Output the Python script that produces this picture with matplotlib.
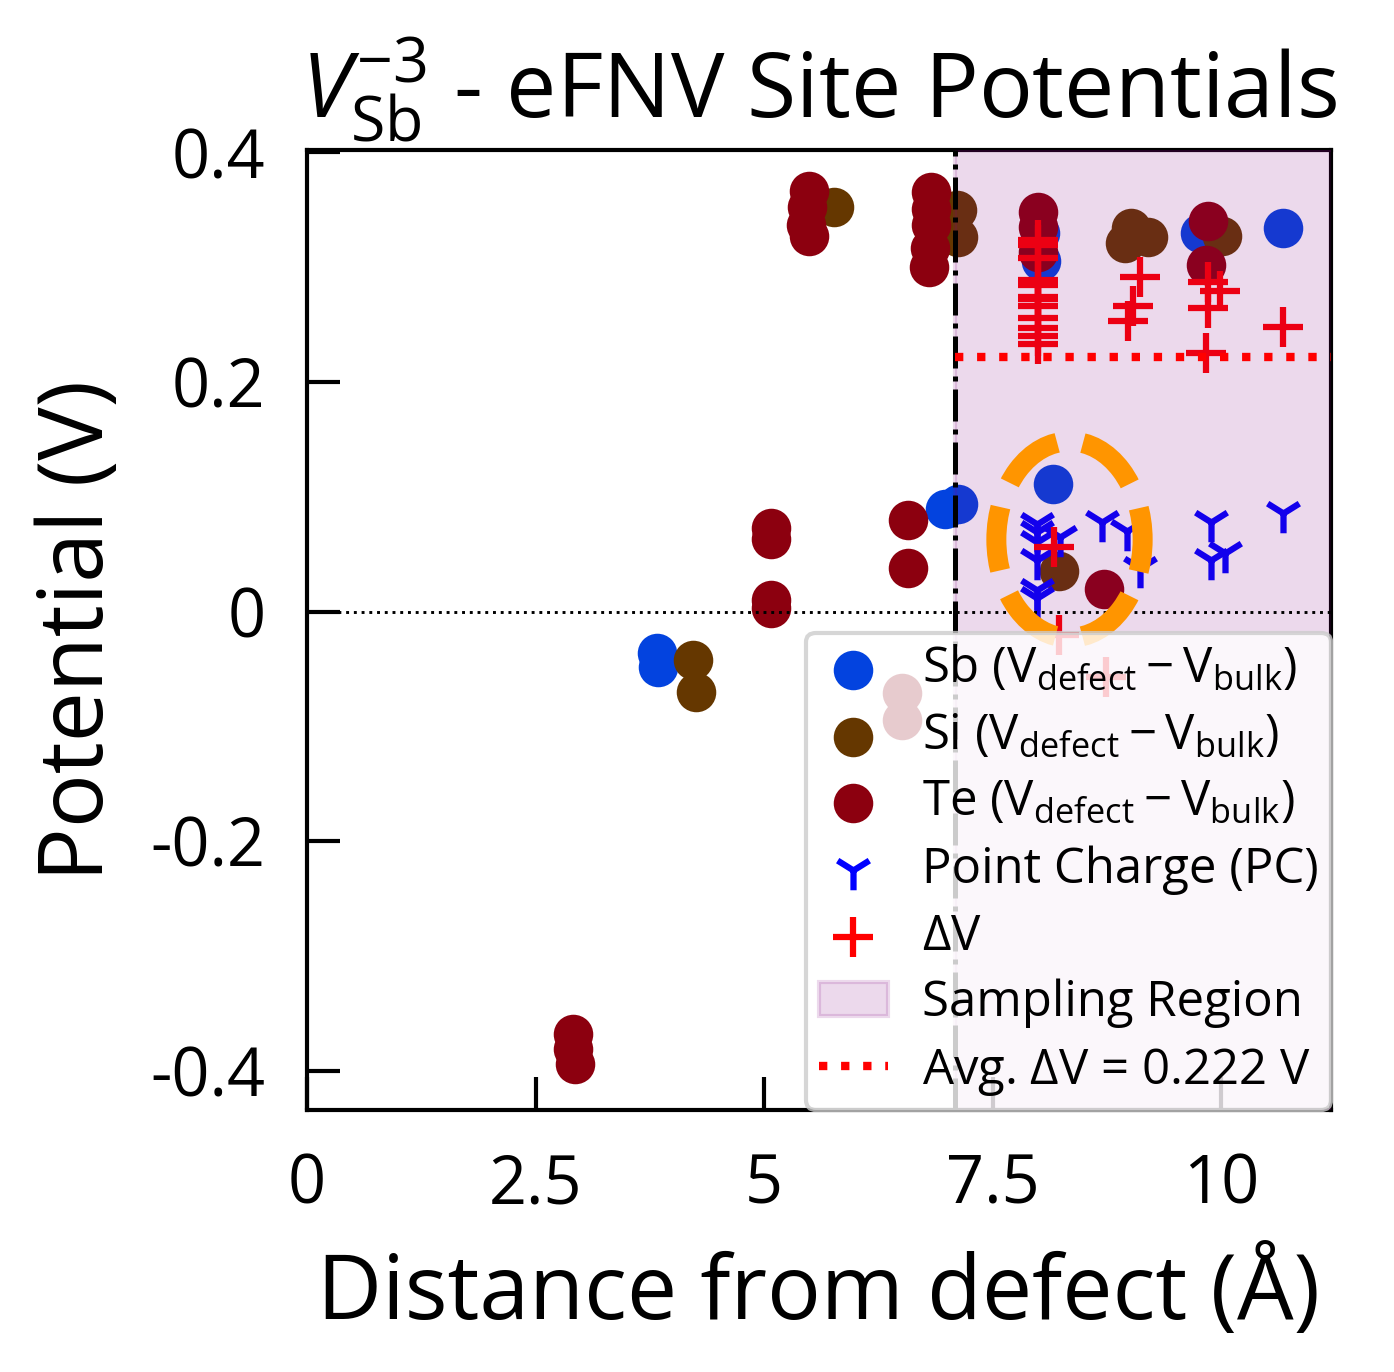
import numpy as np
import matplotlib
matplotlib.use("Agg")
import matplotlib.pyplot as plt
from matplotlib.patches import Ellipse

# --- fonts ---
plt.rcParams["font.family"] = ["Open Sans", "DejaVu Sans"]
plt.rcParams["mathtext.fontset"] = "custom"
plt.rcParams["mathtext.rm"] = "Open Sans"
plt.rcParams["mathtext.it"] = "Open Sans:italic"
plt.rcParams["mathtext.bf"] = "Open Sans:bold"

# --- site potential data ---
sb_x = [3.83, 3.84, 6.98, 7.12, 8.02, 8.03, 8.16, 9.77, 10.68]
sb_y = [-0.036, -0.048, 0.089, 0.094, 0.330, 0.305, 0.111, 0.330, 0.334]

si_x = [4.22, 4.25, 5.76, 7.11, 7.12, 8.23, 8.95, 9.01, 9.20, 10.01]
si_y = [-0.042, -0.070, 0.352, 0.350, 0.326, 0.035, 0.321, 0.334, 0.326, 0.327]

te_x = [2.91, 2.91, 2.93, 5.07, 5.08, 5.07, 5.08, 5.49, 5.47, 5.46, 5.49,
        6.51, 6.51, 6.57, 6.57, 6.83, 6.83, 6.82, 6.81, 6.80,
        8.00, 8.00, 8.00, 8.72, 9.86, 9.83]
te_y = [-0.368, -0.381, -0.394, 0.073, 0.063, 0.010, 0.003, 0.366, 0.352, 0.337, 0.327,
        -0.071, -0.094, 0.080, 0.038, 0.365, 0.351, 0.337, 0.317, 0.300,
        0.348, 0.335, 0.313, 0.020, 0.340, 0.302]

pc_x = [7.98, 7.98, 7.98, 7.98, 7.98, 7.98, 8.24, 8.70, 8.97, 9.11, 9.89, 9.89, 10.04, 10.68]
pc_y = [0.076, 0.069, 0.061, 0.045, 0.019, 0.012, 0.065, 0.078, 0.070, 0.038, 0.078, 0.045, 0.051, 0.086]

dv_x = [8.00, 8.00, 8.00, 8.00, 8.00, 8.00, 8.00, 8.00, 8.00, 8.00, 8.00, 8.00,
        8.17, 8.22, 8.74, 9.11, 9.03, 8.98, 9.85, 9.99, 9.86, 9.83, 10.68]
dv_y = [0.324, 0.319, 0.308, 0.289, 0.284, 0.274, 0.272, 0.266, 0.256, 0.247, 0.240, 0.233,
        0.056, -0.020, -0.057, 0.291, 0.266, 0.253, 0.287, 0.279, 0.264, 0.225, 0.248]

sampling_start = 7.09
avg_dv = 0.222
x_max = 11.2
y_min, y_max = -0.434, 0.402

x_ticks = [0, 2.5, 5, 7.5, 10]
x_tick_labels = ["0", "2.5", "5", "7.5", "10"]
y_ticks = [-0.4, -0.2, 0, 0.2, 0.4]
y_tick_labels = ["-0.4", "-0.2", "0", "0.2", "0.4"]

# highlighted site (dashed ellipse)
hl_x, hl_y, hl_w, hl_h = 8.34, 0.0627, 1.60, 0.171

# --- plot ---
fig = plt.figure(figsize=(1394 / 300, 1372 / 300), dpi=300)
ax = fig.add_axes([0.2202, 0.1910, 0.7346, 0.6997])

ax.scatter(sb_x, sb_y, s=90, c="#0343DF", label=r"Sb ($\mathrm{V_{defect} - V_{bulk}}$)", zorder=2, lw=0)
ax.scatter(si_x, si_y, s=90, c="#653700", label=r"Si ($\mathrm{V_{defect} - V_{bulk}}$)", zorder=2, lw=0)
ax.scatter(te_x, te_y, s=90, c="#8C000F", label=r"Te ($\mathrm{V_{defect} - V_{bulk}}$)", zorder=2, lw=0)
ax.scatter(pc_x, pc_y, s=90, c="blue", marker="1", linewidths=1.5, label="Point Charge (PC)", zorder=2)
ax.scatter(dv_x, dv_y, s=90, c="red", marker="+", linewidths=1.5, label=r"$\Delta$V", zorder=2)

ax.axvspan(sampling_start, x_max + 1, color="purple", alpha=0.15, label="Sampling Region", zorder=3)
ax.axvline(sampling_start, color="k", ls="-.", lw=1.2, zorder=4)
ax.axhline(0, color="k", ls=":", lw=0.7, zorder=4)
ax.hlines(avg_dv, sampling_start, x_max, colors="red", linestyles=":", lw=2,
          label=r"Avg. $\Delta$V = %.3f V" % avg_dv, zorder=4)

ax.add_patch(Ellipse((hl_x, hl_y), hl_w, hl_h, fill=False, edgecolor="#FF9500",
                     lw=4.8, ls=(3.85, (3.2, 1.3)), zorder=5))

ax.set_xlim(0, x_max)
ax.set_ylim(y_min, y_max)
ax.set_xticks(x_ticks)
ax.set_xticklabels(x_tick_labels)
ax.set_yticks(y_ticks)
ax.set_yticklabels(y_tick_labels)
ax.tick_params(direction="in", length=8, width=1, pad=10, labelsize=16)
for sp in ax.spines.values():
    sp.set_linewidth(1)

ax.set_xlabel("Distance from defect (Å)", fontsize=21.5, labelpad=7)
ax.set_ylabel("Potential (V)", fontsize=21.5, labelpad=6)
ax.set_title(r"$V_{\mathrm{Sb}}^{-3}$ - eFNV Site Potentials", fontsize=21.5, pad=7.5)

leg = ax.legend(loc="lower right", fontsize=11.8, borderaxespad=0, handlelength=1.4,
                labelspacing=0.35, handletextpad=0.7, borderpad=0.25)
leg.set_zorder(10)

fig.savefig("out.png", dpi=300)
